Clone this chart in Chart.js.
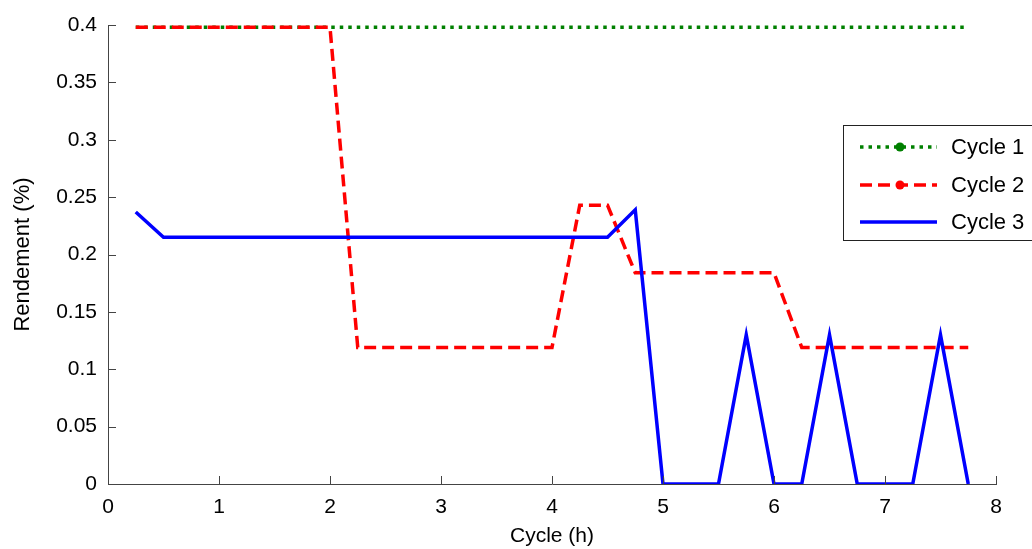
<!DOCTYPE html>
<html>
<head>
<meta charset="utf-8">
<script src="https://cdn.jsdelivr.net/npm/chart.js@4/dist/chart.umd.min.js"></script>
<style>
  html, body { margin: 0; padding: 0; background: #fff; }
  #wrap { width: 1032px; height: 549px; }
</style>
</head>
<body>
<div id="wrap"><canvas id="chart" width="1032" height="549"></canvas></div>
<script>
// Time in hours (x values)
const hours = [0.25, 0.5, 0.75, 1, 1.25, 1.5, 1.75, 2, 2.25, 2.5, 2.75, 3, 3.25, 3.5, 3.75, 4,
               4.25, 4.5, 4.75, 5, 5.25, 5.5, 5.75, 6, 6.25, 6.5, 6.75, 7, 7.25, 7.5, 7.75];

// Rendement for each cycle
const cycle1 = [0.398, 0.398, 0.398, 0.398, 0.398, 0.398, 0.398, 0.398, 0.398, 0.398, 0.398,
                0.398, 0.398, 0.398, 0.398, 0.398, 0.398, 0.398, 0.398, 0.398, 0.398, 0.398,
                0.398, 0.398, 0.398, 0.398, 0.398, 0.398, 0.398, 0.398, 0.398];
const cycle2 = [0.398, 0.398, 0.398, 0.398, 0.398, 0.398, 0.398, 0.398, 0.119, 0.119, 0.119,
                0.119, 0.119, 0.119, 0.119, 0.119, 0.243, 0.243, 0.184, 0.184, 0.184, 0.184,
                0.184, 0.184, 0.119, 0.119, 0.119, 0.119, 0.119, 0.119, 0.119];
const cycle3 = [0.237, 0.215, 0.215, 0.215, 0.215, 0.215, 0.215, 0.215, 0.215, 0.215, 0.215,
                0.215, 0.215, 0.215, 0.215, 0.215, 0.215, 0.215, 0.239, 0, 0, 0,
                0.13, 0, 0, 0.13, 0, 0, 0, 0.13, 0];

const seriesLabels = ['Cycle 1', 'Cycle 2', 'Cycle 3'];
const xTicks = [0, 1, 2, 3, 4, 5, 6, 7, 8];
const yTicks = [0, 0.05, 0.1, 0.15, 0.2, 0.25, 0.3, 0.35, 0.4];

const FONT = 'Liberation Sans, Arial, sans-serif';
const toPoints = vals => vals.map((v, i) => ({ x: hours[i], y: v }));

// Inward tick marks, Matlab style
const inwardTicks = {
    id: 'inwardTicks',
    afterDatasetsDraw(chart) {
        const ctx = chart.ctx;
        const xs = chart.scales.x, ys = chart.scales.y;
        const area = chart.chartArea;
        ctx.save();
        ctx.strokeStyle = '#444';
        ctx.lineWidth = 1;
        ctx.beginPath();
        xTicks.forEach(t => {
            const px = Math.round(xs.getPixelForValue(t)) + 0.5;
            ctx.moveTo(px, area.bottom);
            ctx.lineTo(px, area.bottom - 8);
        });
        yTicks.forEach(t => {
            const py = Math.round(ys.getPixelForValue(t)) + 0.5;
            ctx.moveTo(area.left, py);
            ctx.lineTo(area.left + 8, py);
        });
        ctx.stroke();
        ctx.restore();
    }
};

// Legend box with line samples (markers shown for Cycle 1 and 2)
const boxLegend = {
    id: 'boxLegend',
    afterDraw(chart) {
        const ctx = chart.ctx;
        const left = 843.5, top = 125.5, right = 1040, bottom = 240.5;
        ctx.save();
        ctx.fillStyle = '#fff';
        ctx.fillRect(left, top, right - left, bottom - top);
        ctx.strokeStyle = '#222';
        ctx.lineWidth = 1;
        ctx.strokeRect(left, top, right - left, bottom - top);
        const rows = [147, 185, 222];
        chart.data.datasets.forEach((ds, i) => {
            const y = rows[i];
            ctx.strokeStyle = ds.borderColor;
            ctx.lineWidth = ds.borderWidth;
            ctx.setLineDash(ds.borderDash || []);
            ctx.beginPath();
            ctx.moveTo(860, y);
            ctx.lineTo(937, y);
            ctx.stroke();
            ctx.setLineDash([]);
            if (i < 2) {
                ctx.fillStyle = ds.borderColor;
                ctx.beginPath();
                ctx.arc(900, y, 4.5, 0, Math.PI * 2);
                ctx.fill();
            }
            ctx.fillStyle = '#000';
            ctx.font = '22px ' + FONT;
            ctx.textBaseline = 'middle';
            ctx.textAlign = 'left';
            ctx.fillText(seriesLabels[i], 951, y + 1);
        });
        ctx.restore();
    }
};

const ctx = document.getElementById('chart').getContext('2d');
const chart = new Chart(ctx, {
    type: 'line',
    data: {
        datasets: [
            {
                label: seriesLabels[0],
                data: toPoints(cycle1),
                borderColor: '#008000',
                borderWidth: 3.5,
                borderDash: [3.5, 5],
                pointRadius: 0,
                fill: false,
                order: 3
            },
            {
                label: seriesLabels[1],
                data: toPoints(cycle2),
                borderColor: '#ff0000',
                borderWidth: 3.5,
                borderDash: [12, 6],
                pointRadius: 0,
                fill: false,
                order: 2
            },
            {
                label: seriesLabels[2],
                data: toPoints(cycle3),
                borderColor: '#0000ff',
                borderWidth: 3.5,
                pointRadius: 0,
                fill: false,
                order: 1
            }
        ]
    },
    options: {
        responsive: false,
        animation: false,
        layout: {
            padding: { top: 25, right: 36, left: 0, bottom: 0 }
        },
        plugins: {
            legend: { display: false },
            tooltip: { enabled: false }
        },
        scales: {
            x: {
                type: 'linear',
                min: 0,
                max: 8,
                afterFit(scale) { scale.height = 65; },
                afterBuildTicks(scale) { scale.ticks = xTicks.map(v => ({ value: v })); },
                ticks: {
                    color: '#000',
                    font: { family: FONT, size: 21 },
                    padding: 11,
                    maxRotation: 0
                },
                grid: { display: true, drawOnChartArea: false, drawTicks: false },
                border: { display: true, color: '#444', width: 1 },
                title: {
                    display: true,
                    text: 'Cycle (h)',
                    color: '#000',
                    font: { family: FONT, size: 21 },
                    padding: { top: 4, bottom: 0 }
                }
            },
            y: {
                type: 'linear',
                min: 0,
                max: 0.4,
                afterFit(scale) { scale.width = 108; },
                afterBuildTicks(scale) { scale.ticks = yTicks.map(v => ({ value: v })); },
                ticks: {
                    color: '#000',
                    font: { family: FONT, size: 21 },
                    padding: 11,
                    callback: v => String(Math.round(v * 100) / 100)
                },
                grid: { display: true, drawOnChartArea: false, drawTicks: false },
                border: { display: true, color: '#444', width: 1 },
                title: {
                    display: true,
                    text: 'Rendement (%)',
                    color: '#000',
                    font: { family: FONT, size: 22 },
                    padding: { top: 10, bottom: 0 }
                }
            }
        }
    },
    plugins: [inwardTicks, boxLegend]
});
</script>
</body>
</html>
